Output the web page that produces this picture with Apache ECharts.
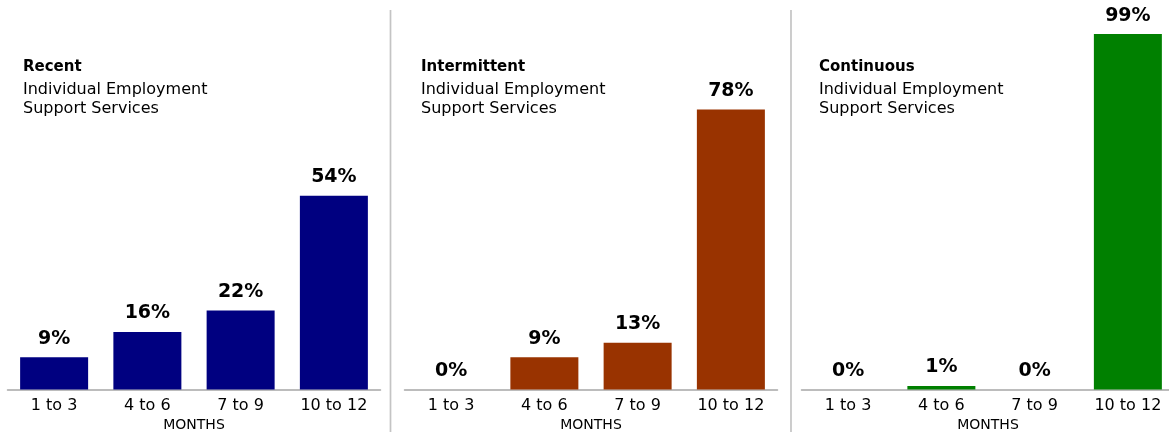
<!DOCTYPE html>
<html>
<head>
<meta charset="utf-8">
<script src="https://cdn.jsdelivr.net/npm/echarts@6/dist/echarts.min.js"></script>
<style>
html,body{margin:0;padding:0;background:#fff;}
#chart{width:1169px;height:432px;}
</style>
</head>
<body>
<div id="chart"></div>
<script>
const categories = ['1 to 3', '4 to 6', '7 to 9', '10 to 12'];
const panelNames = ['Recent', 'Intermittent', 'Continuous'];
const panelSubtitle = 'Individual Employment\nSupport Services';
const axisName = 'MONTHS';
const recentValues = [9, 16, 22, 54];
const intermittentValues = [0, 9, 13, 78];
const continuousValues = [0, 1, 0, 99];
const panelColors = ['#000080', '#993300', '#008000'];

const panelValues = [recentValues, intermittentValues, continuousValues];
const gridLefts = [7.5, 404.5, 801.5];
const titleLefts = [23, 421, 819];
const FONT = '"DejaVu Sans", Verdana, sans-serif';

const chart = echarts.init(document.getElementById('chart'));
const option = {
  backgroundColor: '#fff',
  animation: false,
  title: panelNames.map((n, i) => ({
    text: n,
    subtext: panelSubtitle,
    left: titleLefts[i],
    top: 59,
    padding: 0,
    itemGap: 4.5,
    textStyle: {fontFamily: FONT, fontSize: 15, fontWeight: 'bold', color: '#000', lineHeight: 17},
    subtextStyle: {fontFamily: FONT, fontSize: 16, color: '#000', lineHeight: 19}
  })),
  grid: gridLefts.map(l => ({left: l, width: 373, top: 30.5, bottom: 42.5, containLabel: false, outerBoundsMode: 'none'})),
  xAxis: gridLefts.map((l, i) => ({
    type: 'category',
    gridIndex: i,
    data: categories,
    name: axisName,
    nameLocation: 'middle',
    nameGap: 29,
    nameTextStyle: {fontFamily: FONT, fontSize: 14, color: '#000', lineHeight: 14},
    axisLine: {show: true, lineStyle: {color: '#a6a6a6', width: 1.5}},
    axisTick: {show: false},
    axisLabel: {fontFamily: FONT, fontSize: 16, color: '#000', margin: 8, interval: 0}
  })),
  yAxis: gridLefts.map((l, i) => ({
    type: 'value', gridIndex: i, min: 0, max: 100, show: false,
    splitLine: {show: false}
  })),
  series: panelValues.map((vals, i) => ({
    type: 'bar',
    xAxisIndex: i,
    yAxisIndex: i,
    data: vals,
    barWidth: 68,
    itemStyle: {color: panelColors[i]},
    label: {
      show: true, position: 'top', distance: 9,
      formatter: p => p.value + '%',
      fontFamily: FONT, fontSize: 19, fontWeight: 'bold', color: '#000'
    }
  })),
  graphic: [
    {type: 'line', shape: {x1: 390.5, y1: 10, x2: 390.5, y2: 432}, style: {stroke: '#c4c4c4', lineWidth: 1.7}},
    {type: 'line', shape: {x1: 791, y1: 10, x2: 791, y2: 432}, style: {stroke: '#c4c4c4', lineWidth: 1.7}}
  ]
};
chart.setOption(option);
</script>
</body>
</html>
